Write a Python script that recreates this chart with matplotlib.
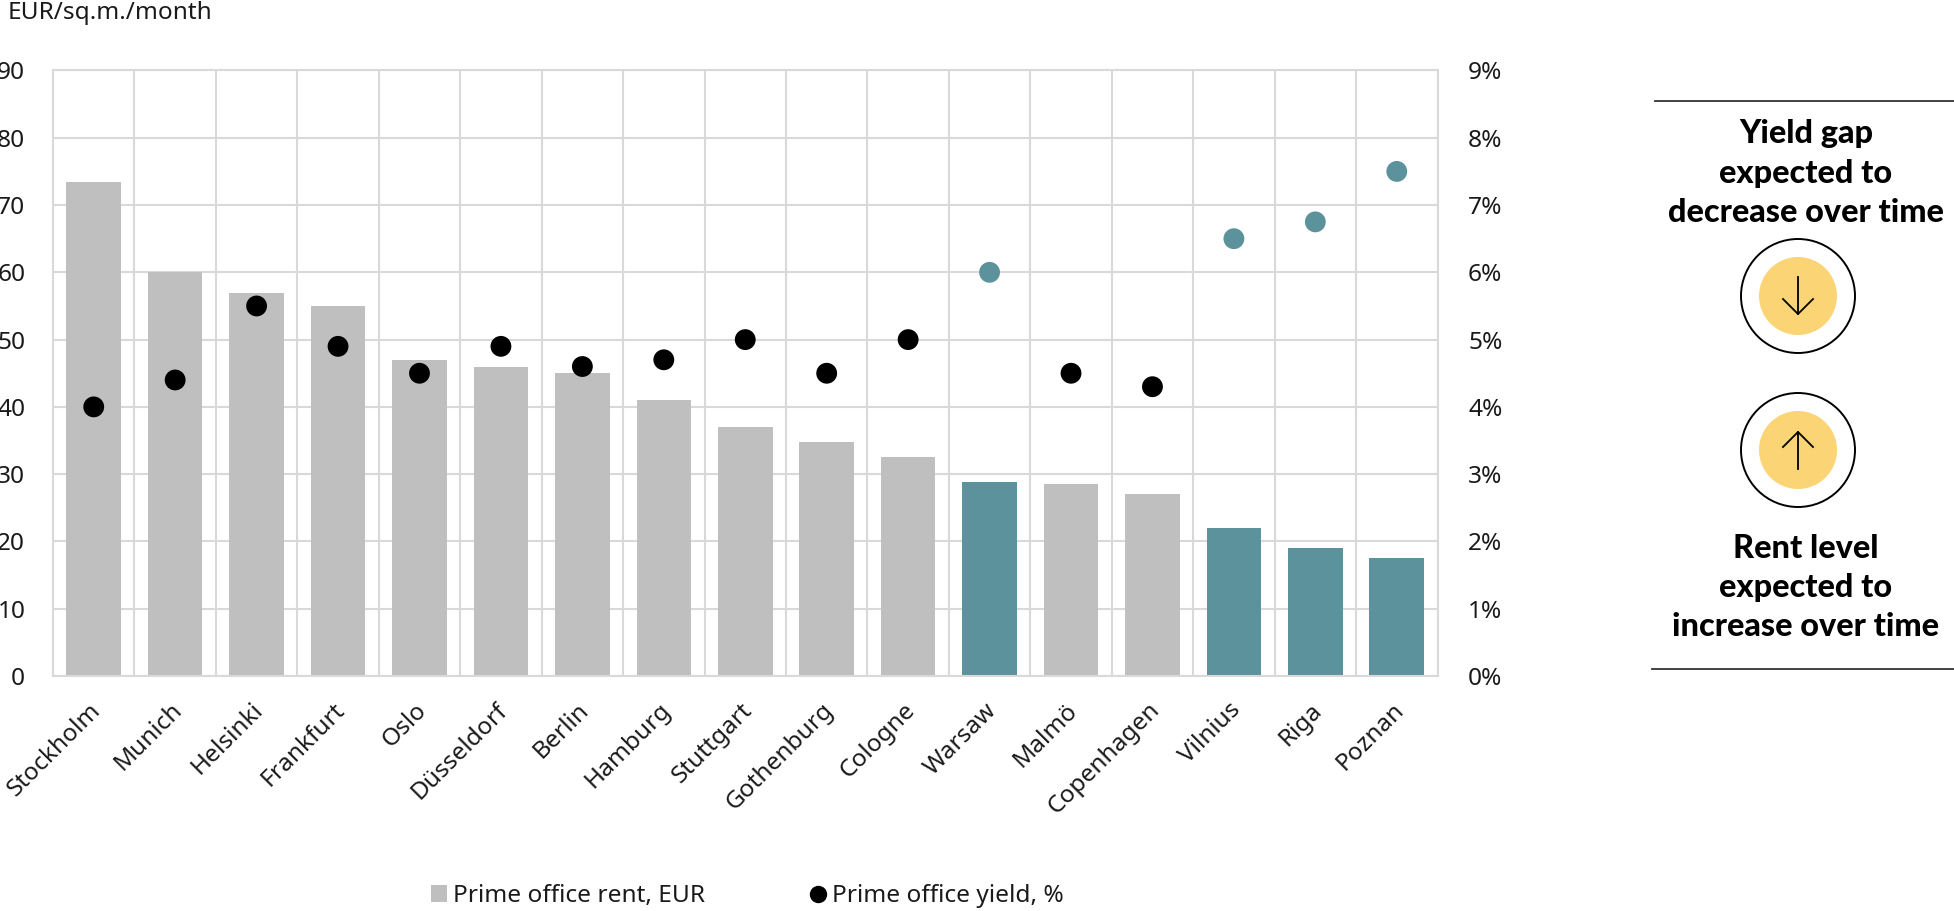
import numpy as np
import matplotlib

matplotlib.use("Agg")
import matplotlib.pyplot as plt
from matplotlib.lines import Line2D
from matplotlib.patches import Circle, Patch
from matplotlib.transforms import ScaledTranslation

cities = [
    "Stockholm", "Munich", "Helsinki", "Frankfurt", "Oslo", "Düsseldorf",
    "Berlin", "Hamburg", "Stuttgart", "Gothenburg", "Cologne", "Warsaw",
    "Malmö", "Copenhagen", "Vilnius", "Riga", "Poznan",
]
rent_eur = [73.4, 60, 57, 55, 47, 46, 45, 41, 37, 34.8, 32.5, 28.8, 28.5, 27, 22, 19, 17.5]
yield_pct = [4.0, 4.4, 5.5, 4.9, 4.5, 4.9, 4.6, 4.7, 5.0, 4.5, 5.0, 6.0, 4.5, 4.3, 6.5, 6.75, 7.5]
highlighted = ["Warsaw", "Vilnius", "Riga", "Poznan"]

W, H = 1954, 911
GREY = "#BFBFBF"
TEAL = "#5B929C"
GRID = "#D9D9D9"
YELLOW = "#FBD476"
TEXT = "#1A1A1A"
FONT_SIZE = 17.6

plt.rcParams["font.family"] = ["Noto Sans", "DejaVu Sans"]

fig = plt.figure(figsize=(W / 100, H / 100), dpi=100, facecolor="white")
ax = fig.add_axes([53 / W, 1 - 676 / H, (1437.5 - 53) / W, (676 - 70.5) / H])

x = np.arange(len(cities))
is_highlighted = [c in highlighted for c in cities]

ax.bar(
    x, rent_eur, width=0.67, zorder=2,
    color=[TEAL if h else GREY for h in is_highlighted],
)
ax.set_xlim(-0.5, len(cities) - 0.5)
ax.set_ylim(0, 90)
ax.set_yticks(np.arange(0, 91, 10))
ax.set_xticks(x)
ax.set_xticklabels(cities, rotation=45, ha="right", va="top", rotation_mode="anchor")
ax.tick_params(axis="x", length=0, pad=16, labelsize=FONT_SIZE, labelcolor=TEXT)
ax.tick_params(axis="y", length=0, pad=20, labelsize=FONT_SIZE, labelcolor=TEXT)

# nudge the slanted city names left of the bar centres
shift = ScaledTranslation(-5 / 100, 0, fig.dpi_scale_trans)
for label in ax.get_xticklabels():
    label.set_transform(label.get_transform() + shift)

# vertical gridlines sit between categories
ax.set_xticks(np.arange(-0.5, len(cities)), minor=True)
ax.tick_params(axis="x", which="minor", length=0)
ax.grid(axis="x", which="minor", color=GRID, lw=1.5, zorder=0)
ax.grid(axis="y", which="major", color=GRID, lw=1.5, zorder=0)
ax.grid(axis="x", which="major", visible=False)
for spine in ax.spines.values():
    spine.set_color(GRID)
    spine.set_linewidth(1.5)

ax2 = ax.twinx()
ax2.set_ylim(0, 9)
ax2.set_yticks(np.arange(0, 10))
ax2.set_yticklabels([f"{v}%" for v in range(10)])
ax2.tick_params(axis="y", length=0, pad=22, labelsize=FONT_SIZE, labelcolor=TEXT)
for spine in ax2.spines.values():
    spine.set_visible(False)
ax2.scatter(
    x, yield_pct, s=225, linewidths=0, zorder=3, clip_on=False,
    c=[TEAL if h else "black" for h in is_highlighted],
)

fig.text(8 / W, 1 - 13 / H, "EUR/sq.m./month", fontsize=FONT_SIZE, color=TEXT, va="center", ha="left")

handles = [
    Patch(facecolor=GREY, label="Prime office rent, EUR"),
    Line2D([], [], marker="o", ls="none", color="black", markersize=11.5, label="Prime office yield, %"),
]
fig.legend(
    handles=handles, ncols=2, frameon=False, fontsize=FONT_SIZE, labelcolor=TEXT,
    loc="center left", bbox_to_anchor=(409 / W, 1 - 896 / H),
    handlelength=0.65, handleheight=0.65, handletextpad=0.25, columnspacing=4.3,
)

# side panel is laid out in pixel coordinates
panel = fig.add_axes([0, 0, 1, 1], zorder=5)
panel.set_xlim(0, W)
panel.set_ylim(H, 0)
panel.axis("off")
panel.patch.set_alpha(0)

panel.plot([1655, W], [100.5, 100.5], color="#333333", lw=1.3)
panel.plot([1652, W], [669, 669], color="#333333", lw=1.3)

text_kw = dict(ha="center", va="center", fontsize=23.3, family="Lato", weight="black", color="black")
for ypos, line in zip([134, 174, 212], ["Yield gap", "expected to", "decrease over time"]):
    panel.text(1806, ypos, line, **text_kw)
for ypos, line in zip([549, 588, 626], ["Rent level", "expected to", "increase over time"]):
    panel.text(1806, ypos, line, **text_kw)

for cy, direction in [(296, "down"), (450, "up")]:
    panel.add_patch(Circle((1798, cy), 57, facecolor="white", edgecolor="black", lw=1.4))
    panel.add_patch(Circle((1798, cy), 39, facecolor=YELLOW, edgecolor="none"))
    sign = 1 if direction == "down" else -1
    tip = cy + sign * 18
    tail = cy - sign * 19
    panel.plot([1798, 1798], [tail, tip], color="black", lw=1.3)
    panel.plot([1783, 1798, 1813], [tip - sign * 15, tip, tip - sign * 15], color="black", lw=1.3)

fig.savefig("out.png", dpi=100)
